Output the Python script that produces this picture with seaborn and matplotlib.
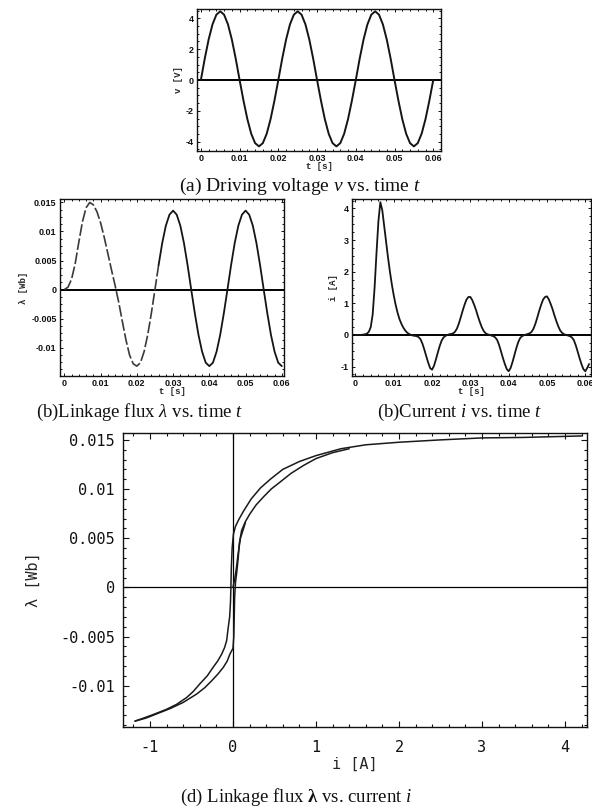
import numpy as np
import pandas as pd
import matplotlib
matplotlib.use("Agg")
import matplotlib.pyplot as plt
import seaborn as sns
from matplotlib.ticker import AutoMinorLocator

# ---------------- data ----------------
# driving voltage v [V], sampled every 1 ms from t = 0 to 0.060 s
voltage = [0.0, 1.38, 2.62, 3.60, 4.23, 4.45, 4.23, 3.60, 2.62, 1.38, 0.0,
           -1.33, -2.53, -3.48, -4.09, -4.30, -4.09, -3.48, -2.53, -1.33, 0.0,
           1.38, 2.62, 3.60, 4.23, 4.45, 4.23, 3.60, 2.62, 1.38, 0.0,
           -1.33, -2.53, -3.48, -4.09, -4.30, -4.09, -3.48, -2.53, -1.33, 0.0,
           1.38, 2.62, 3.60, 4.23, 4.45, 4.23, 3.60, 2.62, 1.38, 0.0,
           -1.33, -2.53, -3.48, -4.09, -4.30, -4.09, -3.48, -2.53, -1.33, 0.0]

# linkage flux lambda [Wb], sampled every 1 ms from t = 0 to 0.060 s
flux = [0.0, 0.0004, 0.0018, 0.0045, 0.0082, 0.0117, 0.0141, 0.0150, 0.0146, 0.0134,
        0.0115, 0.0090, 0.0062, 0.0034, 0.0007, -0.0022, -0.0055, -0.0087, -0.0113, -0.0128,
        -0.0132, -0.0126, -0.0107, -0.0078, -0.0041, 0.0, 0.0042, 0.0080, 0.0110, 0.0129,
        0.0136, 0.0129, 0.0110, 0.0080, 0.0042, 0.0, -0.0041, -0.0078, -0.0107, -0.0126,
        -0.0132, -0.0126, -0.0107, -0.0078, -0.0041, 0.0, 0.0042, 0.0080, 0.0110, 0.0129,
        0.0136, 0.0129, 0.0110, 0.0080, 0.0042, 0.0, -0.0041, -0.0078, -0.0107, -0.0126,
        -0.0132]

# coil current i [A], sampled every 0.5 ms from t = 0 to 0.061 s
current = [0, 0, 0, 0, 0.01, 0.02, 0.04, 0.1, 0.25, 0.65,
           1.5, 2.6, 3.6, 4.2, 3.95, 3.45, 2.95, 2.45, 2.0, 1.6,
           1.25, 0.95, 0.7, 0.5, 0.35, 0.23, 0.14, 0.07, 0.03, 0.0,
           -0.02, -0.03, -0.04, -0.07, -0.14, -0.28, -0.47, -0.68, -0.88, -1.05,
           -1.1, -0.98, -0.78, -0.56, -0.35, -0.18, -0.08, -0.03, 0.0, 0.02,
           0.03, 0.05, 0.1, 0.2, 0.36, 0.56, 0.77, 0.96, 1.12, 1.2,
           1.2, 1.1, 0.95, 0.78, 0.58, 0.4, 0.24, 0.12, 0.05, 0.02,
           0.0, -0.02, -0.04, -0.08, -0.16, -0.32, -0.52, -0.73, -0.92, -1.08,
           -1.15, -1.05, -0.86, -0.64, -0.42, -0.23, -0.1, -0.04, -0.01, 0.01,
           0.03, 0.05, 0.1, 0.2, 0.36, 0.56, 0.77, 0.96, 1.12, 1.2,
           1.22, 1.12, 0.97, 0.8, 0.6, 0.42, 0.26, 0.13, 0.06, 0.02,
           0.0, -0.02, -0.04, -0.08, -0.16, -0.32, -0.52, -0.73, -0.92, -1.08,
           -1.15, -1.05, -0.92]

# lambda-i loop: initial magnetisation, descending and ascending branches
init_i = [0.0, 0.02, 0.04, 0.06, 0.09, 0.15]
init_lam = [0.0, 0.0008, 0.0019, 0.0033, 0.0050, 0.0066]

desc_i = [4.20, 3.50, 3.00, 2.50, 2.00, 1.60, 1.30, 1.00, 0.80, 0.60, 0.45, 0.33, 0.22,
          0.13, 0.07, 0.03, 0.005, -0.010, -0.020, -0.025, -0.030, -0.040, -0.056, -0.076,
          -0.100, -0.137, -0.185, -0.237, -0.310, -0.398, -0.480, -0.558, -0.680, -0.800,
          -0.950, -1.080, -1.180]
desc_lam = [0.0154, 0.01525, 0.0152, 0.0150, 0.01476, 0.0145, 0.0141, 0.0134, 0.0128,
            0.0120, 0.0110, 0.0101, 0.0090, 0.0078, 0.0069, 0.0062, 0.0054, 0.0040, 0.0020,
            0.0000, -0.0015, -0.0030, -0.0040, -0.0054, -0.0061, -0.0068, -0.0075, -0.0081,
            -0.0090, -0.0098, -0.0106, -0.0112, -0.0119, -0.0124, -0.0129, -0.0133, -0.0136]

asc_i = [-1.18, -1.05, -0.90, -0.75, -0.60, -0.438, -0.34, -0.257, -0.18, -0.116, -0.07,
         -0.036, 0.000, 0.010, 0.015, 0.020, 0.030, 0.045, 0.052, 0.064, 0.076, 0.104,
         0.150, 0.205, 0.280, 0.365, 0.460, 0.566, 0.700, 0.850, 1.000, 1.200, 1.400]
asc_lam = [-0.0136, -0.0133, -0.0128, -0.0123, -0.0117, -0.01085, -0.0102, -0.0095, -0.0088,
           -0.00813, -0.0075, -0.00677, -0.0062, -0.0050, -0.0030, -0.0010, 0.0005, 0.0015,
           0.00206, 0.00308, 0.00444, 0.00579, 0.0067, 0.00749, 0.0084, 0.00918, 0.0100,
           0.0107, 0.0116, 0.0124, 0.0131, 0.0137, 0.0141]

# tick values and labels
t_ticks = [0, 0.01, 0.02, 0.03, 0.04, 0.05, 0.06]
t_labels = ["0", "0.01", "0.02", "0.03", "0.04", "0.05", "0.06"]
v_ticks = [4, 2, 0, -2, -4]
v_labels = ["4", "2", "0", "-2", "-4"]
lam_ticks = [0.015, 0.01, 0.005, 0, -0.005, -0.01]
lam_labels = ["0.015", "0.01", "0.005", "0", "-0.005", "-0.01"]
i_ticks = [4, 3, 2, 1, 0, -1]
i_labels = ["4", "3", "2", "1", "0", "-1"]
loop_i_ticks = [-1, 0, 1, 2, 3, 4]
loop_i_labels = ["-1", "0", "1", "2", "3", "4"]

t_1ms = np.round(np.arange(len(voltage)) * 0.001, 4)
t_flux = np.round(np.arange(len(flux)) * 0.001, 4)
t_half = np.round(np.arange(len(current)) * 0.0005, 4)

df_v = pd.DataFrame({"t": t_1ms, "v": voltage})
df_lam = pd.DataFrame({"t": t_flux, "lam": flux})
df_i = pd.DataFrame({"t": t_half, "i": current})

# ---------------- style ----------------
sns.set_theme(style="ticks")
plt.rcParams.update({
    "font.family": ["DejaVu Sans"],
    "mathtext.fontset": "custom",
    "mathtext.rm": "Liberation Serif",
    "mathtext.it": "Liberation Serif:italic",
    "mathtext.bf": "Liberation Serif:bold",
    "axes.edgecolor": "#111111",
    "axes.linewidth": 1.0,
    "figure.facecolor": "white",
    "axes.facecolor": "white",
})

W, H = 592, 811
fig = plt.figure(figsize=(W / 100, H / 100), dpi=100)


def box(left, top, right, bottom):
    return fig.add_axes([left / W, 1 - bottom / H, (right - left) / W, (bottom - top) / H])


small_tick = dict(fontsize=6.5, fontweight="bold", family="Liberation Sans")
small_label = dict(fontsize=6.5, fontweight="bold", family="Liberation Mono")


def small_panel(ax, xlim, ylim, yt, yl, ylabel):
    ax.set_xlim(*xlim)
    ax.set_ylim(*ylim)
    ax.set_xticks(t_ticks)
    ax.set_xticklabels(t_labels, **small_tick)
    ax.set_yticks(yt)
    ax.set_yticklabels(yl, **small_tick)
    ax.xaxis.set_minor_locator(AutoMinorLocator(5))
    ax.yaxis.set_minor_locator(AutoMinorLocator(4))
    ax.tick_params(which="both", direction="in", top=True, right=True, width=0.7,
                   colors="#111111", pad=2.5)
    ax.tick_params(which="major", length=2.5)
    ax.tick_params(which="minor", length=1.3)
    ax.axhline(0, color="black", lw=1.4, zorder=1)
    ax.set_xlabel("t [s]", labelpad=-1, **small_label)
    ax.set_ylabel(ylabel, labelpad=2, **small_label)


# (a) voltage
ax_a = box(197, 9, 441, 151)
sns.lineplot(data=df_v, x="t", y="v", ax=ax_a, color="#151515", lw=1.4,
             estimator=None, sort=False)
small_panel(ax_a, (-0.001, 0.062), (-4.6, 4.6), v_ticks, v_labels, "v [V]")

# (b) flux: start-up transient drawn broken, steady part solid
ax_b = box(60, 199, 284, 376)
early = df_lam[df_lam["t"] <= 0.026]
late = df_lam[df_lam["t"] >= 0.026]
sns.lineplot(data=early, x="t", y="lam", ax=ax_b, color="#3a3a3a", lw=1.2,
             estimator=None, sort=False, dashes=False)
ax_b.lines[-1].set_dashes((7, 1.6))
sns.lineplot(data=late, x="t", y="lam", ax=ax_b, color="#151515", lw=1.3,
             estimator=None, sort=False)
small_panel(ax_b, (-0.0012, 0.0606), (-0.0149, 0.0156), lam_ticks, lam_labels, "λ [Wb]")

# (c) current
ax_c = box(352, 199, 591, 376)
sns.lineplot(data=df_i, x="t", y="i", ax=ax_c, color="#151515", lw=1.3,
             estimator=None, sort=False)
small_panel(ax_c, (-0.0009, 0.0615), (-1.3, 4.3), i_ticks, i_labels, "i [A]")

# (d) lambda-i loop
ax_d = box(123, 433, 587, 727)
ax_d.axhline(0, color="black", lw=0.9, zorder=1)
ax_d.axvline(0, color="black", lw=0.9, zorder=1)
for xs, ys in [(init_i, init_lam), (desc_i, desc_lam), (asc_i, asc_lam)]:
    sns.lineplot(x=xs, y=ys, ax=ax_d, color="#1a1a1a", lw=1.1, estimator=None, sort=False)
ax_d.set_xlim(-1.325, 4.265)
ax_d.set_ylim(-0.0142, 0.0157)
ax_d.set_xticks(loop_i_ticks)
ax_d.set_xticklabels(loop_i_labels, fontsize=11, family="DejaVu Sans Mono")
ax_d.set_yticks(lam_ticks)
ax_d.set_yticklabels(lam_labels, fontsize=11, family="DejaVu Sans Mono")
ax_d.xaxis.set_minor_locator(AutoMinorLocator(5))
ax_d.yaxis.set_minor_locator(AutoMinorLocator(5))
ax_d.tick_params(which="both", direction="in", top=True, right=True, width=0.8,
                 colors="#111111")
ax_d.tick_params(axis="y", which="both", pad=6)
ax_d.tick_params(axis="x", which="both", pad=9)
ax_d.tick_params(which="major", length=4)
ax_d.tick_params(which="minor", length=2)
ax_d.set_xlabel("i [A]", fontsize=11, family="DejaVu Sans Mono", labelpad=2)
ax_d.set_ylabel("λ [Wb]", fontsize=11, family="DejaVu Sans Mono", labelpad=14)

# captions
cap = dict(fontsize=13.5, family="Liberation Serif", ha="center", va="center", color="#111111")
fig.text(300 / W, 1 - 186 / H, r"(a) Driving voltage $v$ vs. time $t$",
         **{**cap, "fontsize": 14})
fig.text(140 / W, 1 - 412 / H, r"(b)Linkage flux $\lambda$ vs. time $t$", **cap)
fig.text(460 / W, 1 - 412 / H, r"(b)Current $i$ vs. time $t$", **cap)
fig.text(296 / W, 1 - 797 / H, r"(d) Linkage flux $\mathbf{\lambda}$ vs. current $i$", **cap)

fig.savefig("out.png", dpi=100, facecolor="white")
